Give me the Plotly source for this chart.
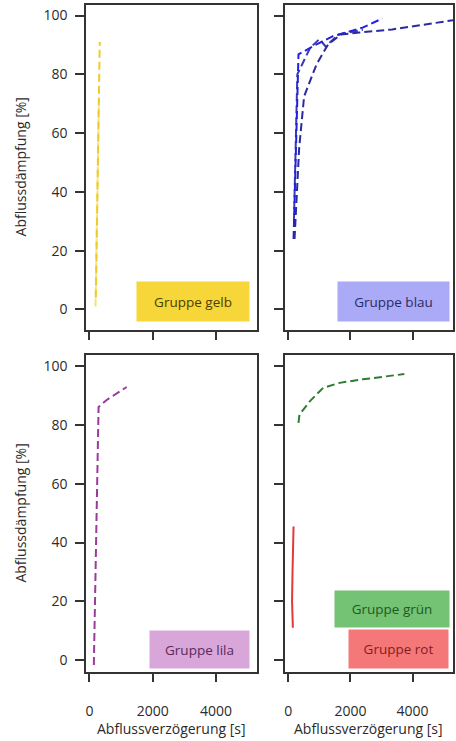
import plotly.graph_objects as go
from plotly.subplots import make_subplots

# ---------------- data ----------------
gelb1_x = [190, 230, 270, 300]
gelb1_y = [1, 30, 55, 72]
gelb2_x = [200, 250, 290, 325]
gelb2_y = [4, 40, 70, 91]

blau1_x = [168, 230, 273, 295, 327, 908, 1438, 2390, 3025]
blau1_y = [24, 50, 73, 81, 86.8, 90.2, 93, 95.9, 99]
blau2_x = [200, 280, 349, 508, 908, 1280, 1702, 2280, 3343, 5300]
blau2_y = [24, 40, 55, 72.5, 83.4, 90.2, 93.6, 94.2, 95.3, 98.4]
blau3_x = [180, 240, 290, 700, 1000, 1200, 1600, 2400]
blau3_y = [30, 60, 80, 89, 92, 89.5, 93.5, 95.2]

lila_x = [138, 200, 288, 535, 1176]
lila_y = [-1.7, 40, 86.2, 88.5, 93]

gruen_x = [327, 359, 698, 1120, 1650, 2390, 3733]
gruen_y = [80.8, 83.6, 88.2, 92.7, 94.4, 95.6, 97.4]

rot_x = [146, 120, 135, 150, 168]
rot_y = [11, 20, 30, 40, 45.5]

x_ticks = [0, 2000, 4000]
y_ticks = [0, 20, 40, 60, 80, 100]

x_title = "Abflussverzögerung [s]"
y_title = "Abflussdämpfung [%]"

FONT = "Open Sans"
TXT = "#2b2b2b"

fig = make_subplots(rows=2, cols=2, shared_xaxes=True, shared_yaxes=True,
                    horizontal_spacing=0.076, vertical_spacing=0.0375)

def add(x, y, color, r, c, dash="8px,4px", width=2):
    fig.add_trace(go.Scatter(x=x, y=y, mode="lines",
                             line=dict(color=color, width=width, dash=dash),
                             showlegend=False, hoverinfo="skip"), row=r, col=c)

add(gelb1_x, gelb1_y, "#F7E36A", 1, 1)
add(gelb2_x, gelb2_y, "#EFCB2A", 1, 1)
add(blau3_x, blau3_y, "#3A3AB8", 1, 2)
add(blau1_x, blau1_y, "#2020E0", 1, 2)
add(blau2_x, blau2_y, "#2A2AA0", 1, 2)
add(lila_x, lila_y, "#9A3A9A", 2, 1)
add(gruen_x, gruen_y, "#2E7D32", 2, 2)
add(rot_x, rot_y, "#E03A3A", 2, 2, dash="solid")

fig.update_layout(
    width=456, height=741,
    margin=dict(l=86, r=1, t=5, b=69),
    paper_bgcolor="white", plot_bgcolor="white",
    font=dict(family=FONT, size=14, color=TXT),
)

axis_common = dict(showline=True, mirror=True, linecolor="#333333", linewidth=1.5,
                   showgrid=False, zeroline=False, ticks="outside",
                   tickwidth=1.5, tickcolor="#333333",
                   tickfont=dict(family=FONT, size=14, color=TXT))

fig.update_xaxes(**axis_common, range=[-110, 5300], tickvals=x_ticks,
                 ticktext=[str(v) for v in x_ticks], ticklen=8, ticklabelstandoff=17)
fig.update_xaxes(showticklabels=False, row=1)
fig.update_xaxes(showticklabels=True, row=2)
fig.update_yaxes(**axis_common, tickvals=y_ticks, ticktext=[str(v) for v in y_ticks],
                 ticklen=9, ticklabelstandoff=5)
fig.update_yaxes(range=[-7.0, 103.6], row=1)
fig.update_yaxes(range=[-4.1, 103.9], row=2)
fig.update_yaxes(showticklabels=False, col=2)

# exact domains (pixel-derived)
fig.update_layout(
    xaxis=dict(domain=[0, 0.466]), xaxis2=dict(domain=[0.542, 1.0]),
    xaxis3=dict(domain=[0, 0.466]), xaxis4=dict(domain=[0.542, 1.0]),
    yaxis=dict(domain=[0.5127, 1.0]), yaxis2=dict(domain=[0.5127, 1.0]),
    yaxis3=dict(domain=[0, 0.4753]), yaxis4=dict(domain=[0, 0.4753]),
)

# group label boxes
labels = [
    ("Gruppe gelb", "x", "y", 0.959, 0.0246, 112, 39, "#F7D63A", "#4A3F00"),
    ("Gruppe blau", "x2", "y2", 0.982, 0.0246, 111, 39, "#AAAAF7", "#2A2A66"),
    ("Gruppe lila", "x3", "y3", 0.959, 0.008, 99, 37, "#D9A6D9", "#5A2A5A"),
    ("Gruppe grün", "x4", "y4", 0.982, 0.139, 114, 36, "#74C274", "#1E5A1E"),
    ("Gruppe rot", "x4", "y4", 0.976, 0.008, 99, 38, "#F47878", "#8A1A1A"),
]
for text, xr, yr, xd, yd, w, h, bg, fc in labels:
    fig.add_annotation(text=text, xref=f"{xr} domain", yref=f"{yr} domain",
                       x=xd, y=yd, xanchor="right", yanchor="bottom",
                       showarrow=False, width=w, height=h, bgcolor=bg,
                       borderpad=0, align="center", valign="middle",
                       font=dict(family=FONT, size=13.5, color=fc))

# axis titles
for xc in [0.233, 0.771]:
    fig.add_annotation(text=x_title, xref="paper", yref="paper", x=xc, y=-0.084,
                       xanchor="center", yanchor="middle", showarrow=False,
                       font=dict(family=FONT, size=14, color=TXT))
for yc in [0.757, 0.238]:
    fig.add_annotation(text=y_title, xref="paper", yref="paper", x=-0.179, y=yc,
                       xanchor="center", yanchor="middle", showarrow=False,
                       textangle=-90,
                       font=dict(family=FONT, size=14, color=TXT))

fig.write_html("out.html", config={"displayModeBar": False},
               post_script="document.body.style.margin='0px';document.body.style.overflow='hidden';")
